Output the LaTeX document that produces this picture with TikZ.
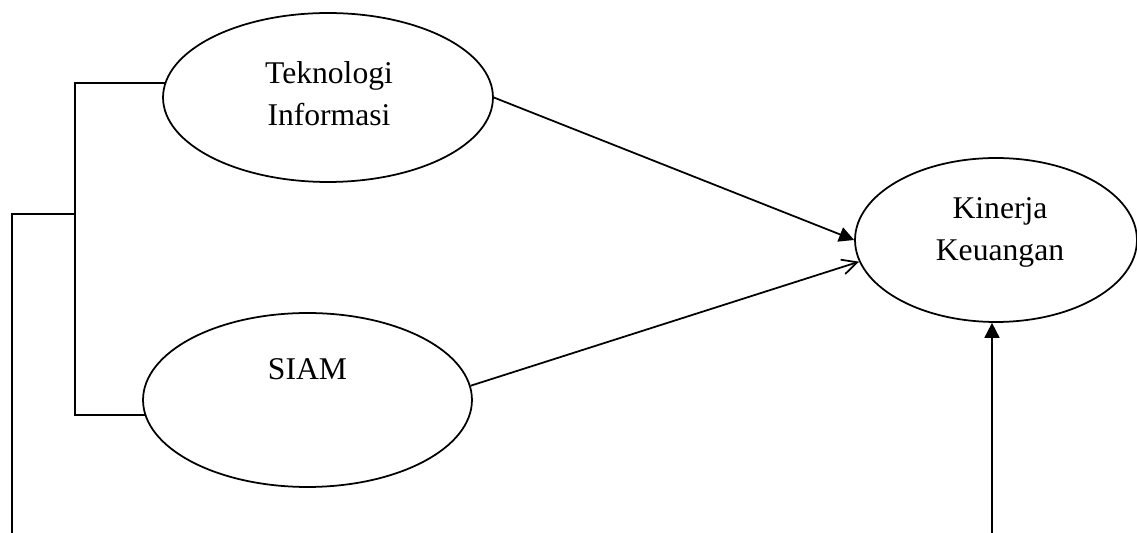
\documentclass[tikz,border=0pt]{standalone}
\usepackage{fontspec}
\setmainfont{Liberation Serif}
\usetikzlibrary{arrows.meta,shapes.geometric}

\begin{document}
\begin{tikzpicture}[x=0.02cm, y=-0.02cm, line width=1pt,
        var/.style={ellipse, draw, inner sep=0pt},
        lbl/.style={inner sep=0pt, align=center, font=\fontsize{18}{24}\selectfont}]
        \useasboundingbox (0,0) rectangle (1137,533);

        \node[var, minimum width=6.6cm, minimum height=3.38cm] (ti) at (328, 97.5) {};
        \node[var, minimum width=6.58cm, minimum height=3.48cm] (siam) at (307.5, 400) {};
        \node[var, minimum width=5.64cm, minimum height=3.28cm] (kin) at (996, 240) {};
        \node[lbl] (tilabel) at (329, 93.5) {Teknologi\\Informasi};
        \node[lbl, anchor=base] (siamlabel) at (307.5, 380) {SIAM};
        \node[lbl] (kinlabel) at (1000, 232.5) {Kinerja\\Keuangan};

        \coordinate (tiend) at (165, 83);
        \coordinate (siamend) at (146, 415);
        \coordinate (joint) at (75, 214);
        \coordinate (leftend) at (12, 533);
        \coordinate (bottom) at (992, 533);

        \draw (tiend) -- (tiend -| joint) -- (siamend -| joint) -- (siamend);
        \draw (leftend) |- (joint);

        \draw[-{Triangle[length=0.3cm, width=0.3cm]}] (ti.east) -- (kin.west);
        \draw[-{Straight Barb[length=0.3cm, width=0.3cm]}] (siam.5) -- (kin.189);
        \draw[-{Triangle[length=0.3cm, width=0.3cm]}] (bottom) -- (bottom |- kin.south);
    \end{tikzpicture}
\end{document}
